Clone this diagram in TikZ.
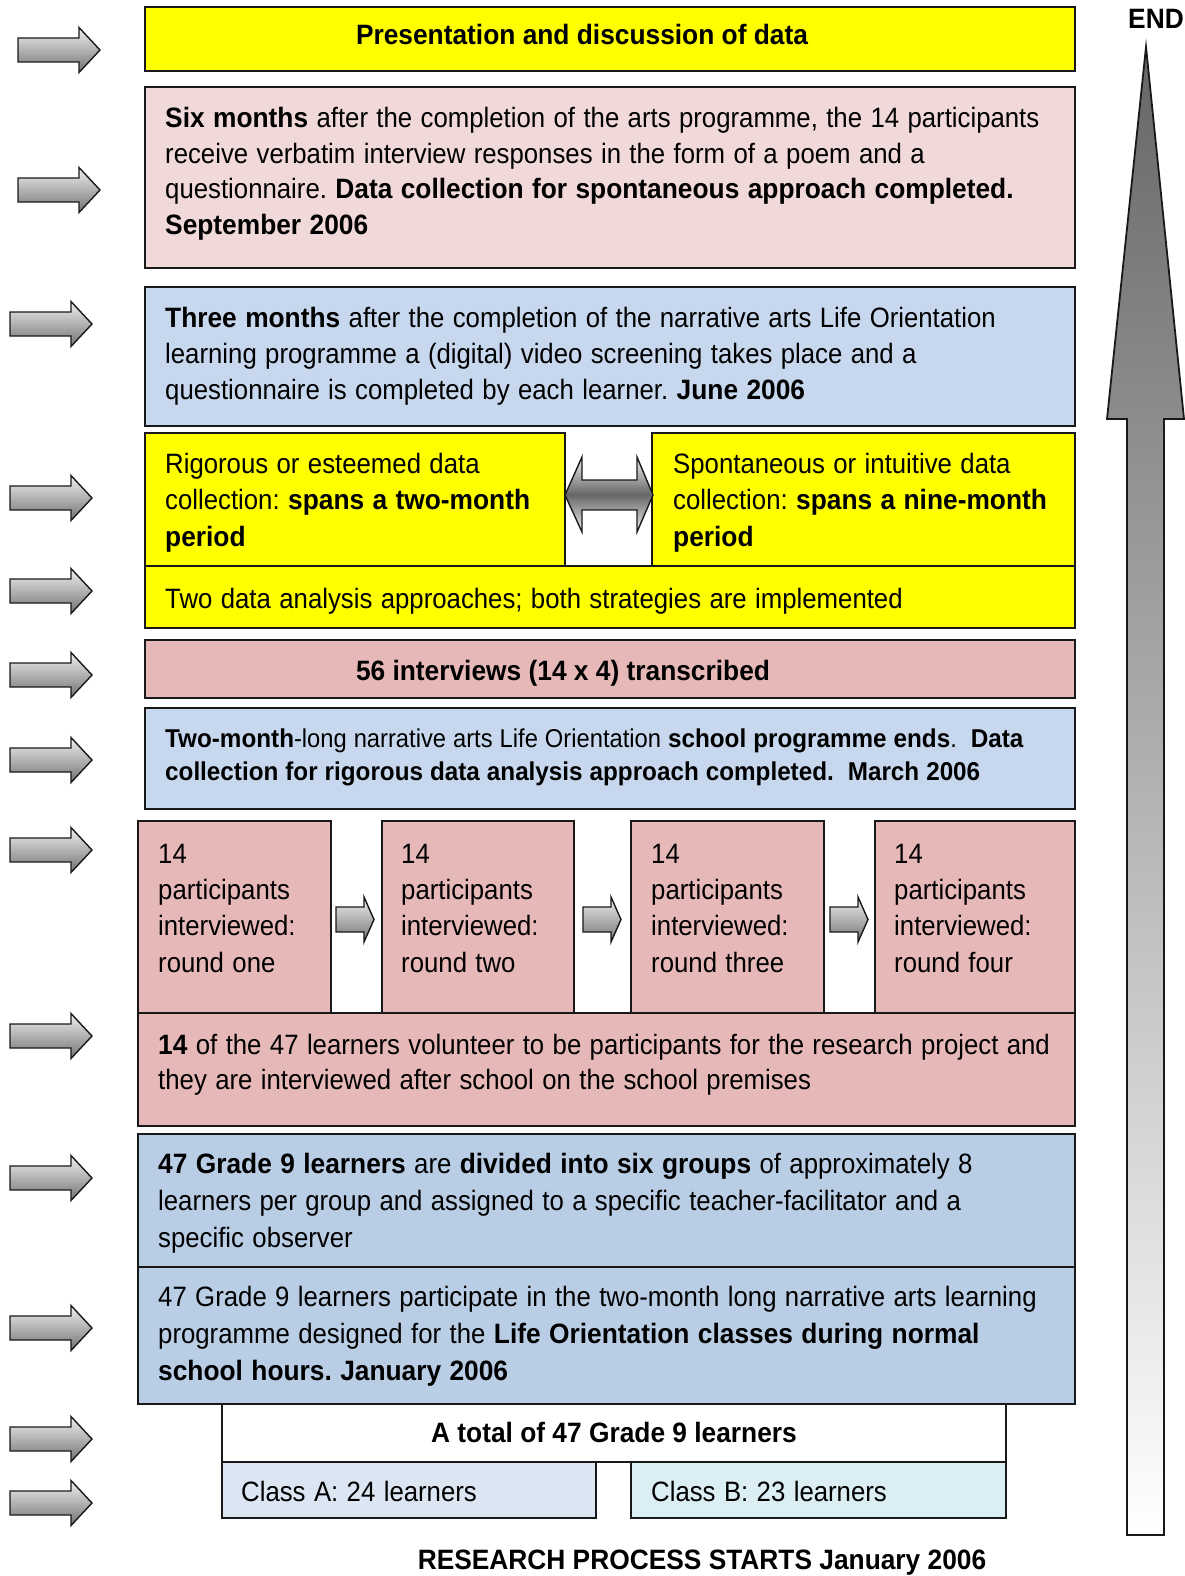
\documentclass[tikz,border=0pt]{standalone}
\usepackage{fontspec}
\setmainfont{Liberation Sans}[FakeStretch=0.92, BoldFeatures={FakeStretch=0.94}]
\definecolor{yel}{HTML}{FFFF00}
\definecolor{pinkA}{HTML}{E6B9B8}
\definecolor{pinkL}{HTML}{F0D9D8}
\definecolor{blueD}{HTML}{C7D8EE}
\definecolor{blueS}{HTML}{B9CDE5}
\definecolor{clsA}{HTML}{DCE6F2}
\definecolor{clsB}{HTML}{DAEEF3}
\newcommand\mybox[6]{\node[box, fill=#2, minimum width={#5-#3}, minimum height={#6-#4}] (#1) at ({(#3+#5)/2},{(#4+#6)/2}) {};}
\newcommand\setwsp[1]{\spaceskip=#1pt plus 2.5pt\relax}
\frenchspacing
\begin{document}
\begin{tikzpicture}[x=1pt,y=-1pt,
  box/.style={draw=black!90, line width=1.8pt, inner sep=0pt, outer sep=0pt},
  txt/.style 2 args={anchor=base west, inner sep=0pt, align=left, text width=#1, font=\fontsize{28}{#2}\selectfont, execute at begin node={\setwsp{8.4}}},
  ctxt/.style={anchor=base, inner sep=0pt, font=\fontsize{28}{30}\selectfont\bfseries},
  sarrow/.style={draw=black!90, line width=1.4pt, top color=black!6, bottom color=black!55},
  darrow/.style={draw=black!90, line width=1.4pt, top color=black!5, bottom color=black!5, middle color=black!60},
  bigarrow/.style={draw=black!90, line width=1.8pt, top color=black!60, bottom color=white},
  blockarrow/.pic={\path[sarrow] (0,-12) -- (61,-12) -- (61,-22.5) -- (82,0) -- (61,22.5) -- (61,12) -- (0,12) -- cycle;},
  smallarrow/.pic={\path[sarrow] (0,-12.5) -- (28,-12.5) -- (28,-22.5) -- (38,0) -- (28,22.5) -- (28,12.5) -- (0,12.5) -- cycle;}
]
\useasboundingbox (0,0) rectangle (1185,1576);

% big upward arrow
\path[bigarrow] (1146,47) -- (1184,419) -- (1164,419) -- (1164,1535) -- (1127,1535) -- (1127,419) -- (1107,419) -- cycle;
\node[ctxt] (endlbl) at (1156,29) {END};

% left arrows
\foreach \x/\y in {18/50, 18/190, 10/324, 10/498, 10/591, 10/675, 10/760, 10/850, 10/1036, 10/1178, 10/1328, 10/1439, 10/1503}
  \pic at (\x,\y) {blockarrow};

% boxes
\mybox{b1}{yel}{145}{7}{1075}{71}
\mybox{b2}{pinkL}{145}{87}{1075}{268}
\mybox{b3}{blueD}{145}{287}{1075}{426}
\mybox{b4a}{yel}{145}{433}{565}{566}
\mybox{b4b}{yel}{652}{433}{1075}{566}
\mybox{b5}{yel}{145}{566}{1075}{628}
\mybox{b6}{pinkA}{145}{640}{1075}{698}
\mybox{b7}{blueD}{145}{708}{1075}{809}
\mybox{b8a}{pinkA}{138}{821}{331}{1013}
\mybox{b8b}{pinkA}{382}{821}{574}{1013}
\mybox{b8c}{pinkA}{631}{821}{824}{1013}
\mybox{b8d}{pinkA}{875}{821}{1075}{1013}
\mybox{b9}{pinkA}{138}{1013}{1075}{1126}
\mybox{b10}{blueS}{138}{1134}{1075}{1267}
\mybox{b11}{blueS}{138}{1267}{1075}{1404}
\mybox{b12}{white}{222}{1404}{1006}{1462}
\mybox{b13}{clsA}{222}{1462}{596}{1518}
\mybox{b14}{clsB}{631}{1462}{1006}{1518}

% double arrow
\path[darrow] (565,495) -- (582,457) -- (582,480) -- (637,480) -- (637,457) -- (653,495) -- (637,532) -- (637,510) -- (582,510) -- (582,532) -- cycle;

% small arrows
\pic at (336,919.5) {smallarrow};
\pic at (583,919.5) {smallarrow};
\pic at (830,919.5) {smallarrow};

% texts
\node[ctxt] (t1) at (582,45) {Presentation and discussion of data};
\node[txt={905pt}{35.5}] (t2) at (165,128) {\textbf{Six months} after the completion of the arts programme, the 14 participants\\receive verbatim interview responses in the form of a poem and a\\questionnaire. \textbf{Data collection for spontaneous approach completed.}\\\textbf{September 2006}};
\node[txt={905pt}{36.2}] (t3) at (165,327.5) {\textbf{Three months} after the completion of the narrative arts Life Orientation\\learning programme a (digital) video screening takes place and a\\questionnaire is completed by each learner. \textbf{June 2006}};
\node[txt={395pt}{36.7}] (t4a) at (165,473) {Rigorous or esteemed data\\collection: \textbf{spans a two-month}\\\textbf{period}};
\node[txt={395pt}{36.7}] (t4b) at (673,473) {Spontaneous or intuitive data\\collection: \textbf{spans a nine-month}\\\textbf{period}};
\node[txt={905pt}{36.5}] (t5) at (165,608) {Two data analysis approaches; both strategies are implemented};
\node[ctxt] (t6) at (563,680) {56 interviews (14 x 4) transcribed};
\node[txt={905pt}{33.3}, font=\fontsize{25.8}{33.3}\selectfont] (t7) at (165,747) {\setwsp{7}\textbf{Two-month}-long narrative arts Life Orientation \textbf{school programme ends}.\ \ \textbf{Data}\\\textbf{collection for rigorous data analysis approach completed.\ \ March 2006}};
\node[txt={180pt}{36.4}] (t8a) at (158,863) {14\\participants\\interviewed:\\round one};
\node[txt={180pt}{36.4}] (t8b) at (401,863) {14\\participants\\interviewed:\\round two};
\node[txt={180pt}{36.4}] (t8c) at (651,863) {14\\participants\\interviewed:\\round three};
\node[txt={180pt}{36.4}] (t8d) at (894,863) {14\\participants\\interviewed:\\round four};
\node[txt={905pt}{35}] (t9) at (158,1054) {\textbf{14} of the 47 learners volunteer to be participants for the research project and\\they are interviewed after school on the school premises};
\node[txt={905pt}{37}] (t10) at (158,1173) {\textbf{47 Grade 9 learners} are \textbf{divided into six groups} of approximately 8\\learners per group and assigned to a specific teacher-facilitator and a\\specific observer};
\node[txt={905pt}{37}] (t11) at (158,1306) {47 Grade 9 learners participate in the two-month long narrative arts learning\\programme designed for the \textbf{Life Orientation classes during normal}\\\textbf{school hours. January 2006}};
\node[ctxt] (t12) at (614,1442) {A total of 47 Grade 9 learners};
\node[txt={340pt}{30}] (t13) at (241,1501) {Class A: 24 learners};
\node[txt={340pt}{30}] (t14) at (651,1501) {Class B: 23 learners};
\node[ctxt] (t15) at (702,1569) {RESEARCH PROCESS STARTS January 2006};
\end{tikzpicture}
\end{document}
